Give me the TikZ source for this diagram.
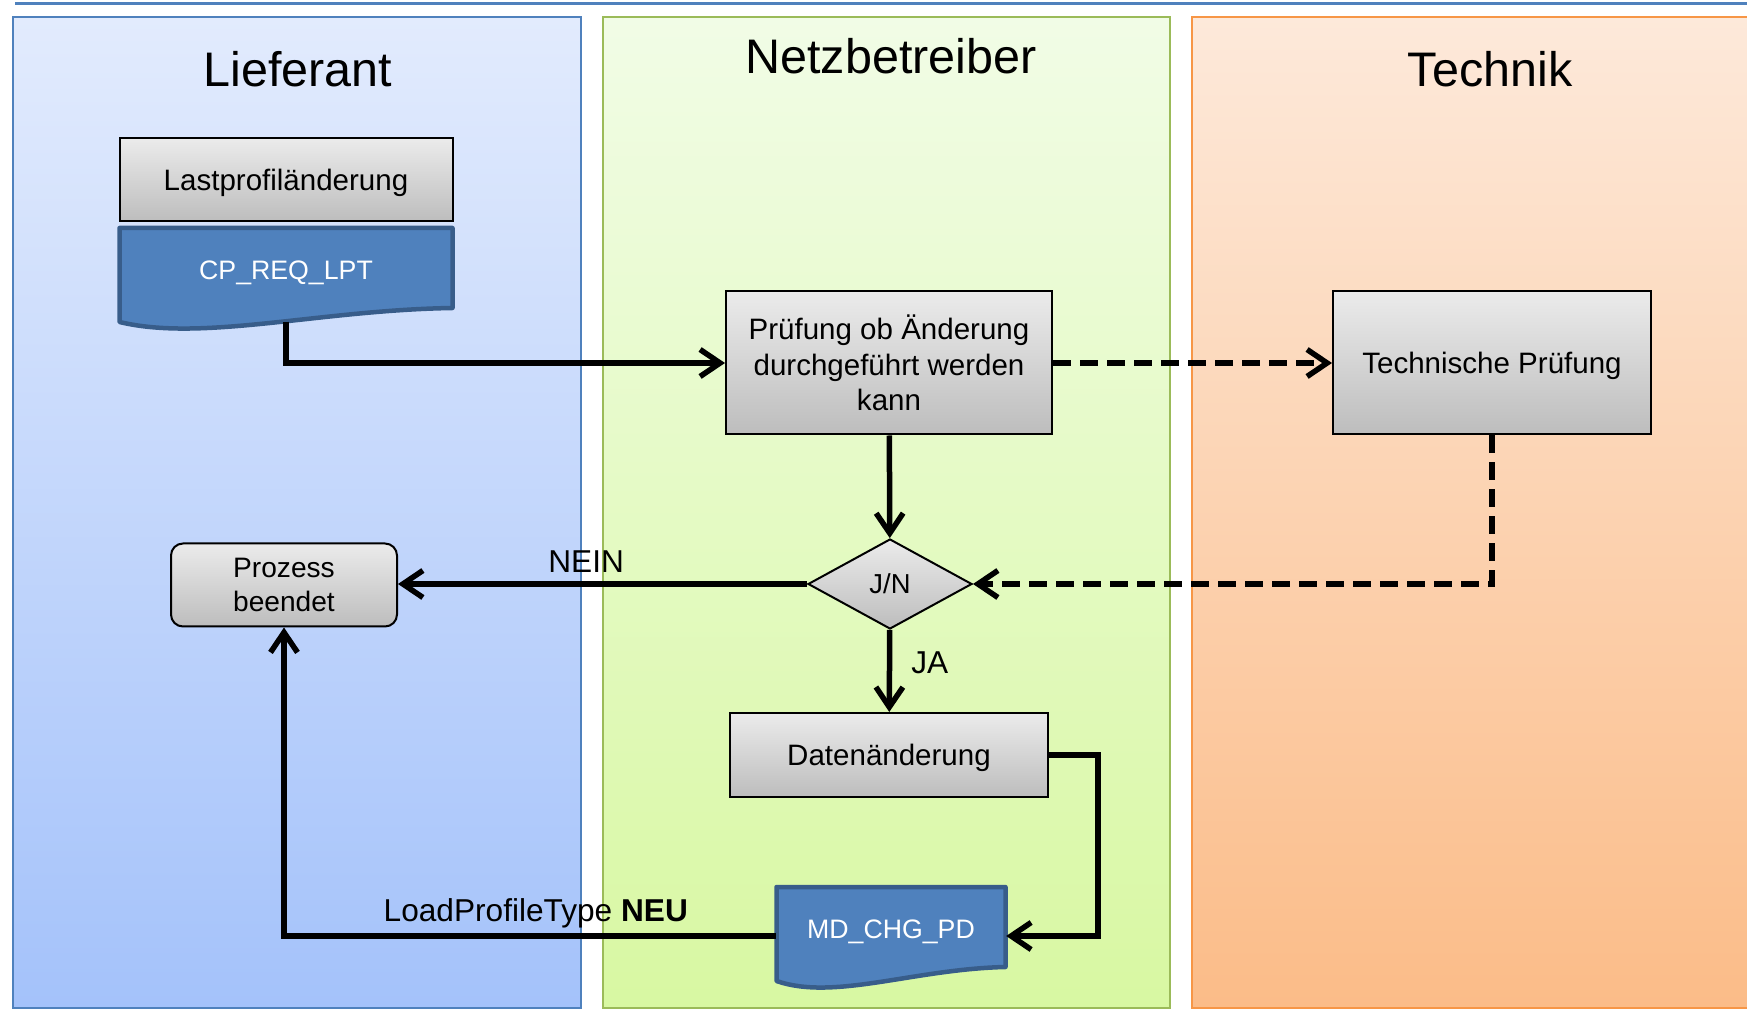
\documentclass[tikz,border=0pt]{standalone}
\usepackage{fontspec}
\setmainfont{Liberation Sans}
\usetikzlibrary{shapes,calc,positioning,arrows.meta}

\definecolor{blueline}{HTML}{4F81BD}
\definecolor{bluetop}{HTML}{E2EBFD}
\definecolor{bluebot}{HTML}{A4C2FA}
\definecolor{greenline}{HTML}{9BBB59}
\definecolor{greentop}{HTML}{F1FCE6}
\definecolor{greenbot}{HTML}{D8F8A2}
\definecolor{orangeline}{HTML}{F79646}
\definecolor{orangetop}{HTML}{FDE9DA}
\definecolor{orangebot}{HTML}{FBBC88}
\definecolor{grautop}{HTML}{EBEBEB}
\definecolor{graubot}{HTML}{BDBDBD}
\definecolor{docblue}{HTML}{4F81BD}
\definecolor{docrand}{HTML}{385D8A}

\tikzset{
  lane/.style={line width=0.15mm},
  titel/.style={font=\fontsize{13.8}{16}\selectfont, anchor=base},
  box/.style={draw, line width=0.2mm, top color=grautop, bottom color=graubot, inner sep=0, text depth=0pt, align=center},
  doc/.style={text=white, font=\fontsize{7.6}{9}\selectfont, inner sep=0, text depth=0pt},
  docform/.style={draw=docrand, fill=docblue, line width=0.45mm, line join=round},
  flow/.style={line width=0.55mm, -{Straight Barb[length=2mm,width=2.7mm]}},
  dflow/.style={flow, dash pattern=on 1.8mm off 0.9mm},
  lbl/.style={font=\fontsize{9}{11}\selectfont, inner sep=0}
}

% #1 center, #2 width, #3 height (in px units of the picture)
\newcommand{\docform}[3]{%
  \draw[docform] ($(#1)+(-#2/2,-#3/2)$) -- ($(#1)+(#2/2,-#3/2)$) -- ($(#1)+(#2/2,#3/2)$)
    .. controls ($(#1)+(0.1*#2,#3/2+2)$) and ($(#1)+(-0.25*#2,#3/2+34)$) .. ($(#1)+(-#2/2,#3/2+14)$) -- cycle;}

\begin{document}
\begin{tikzpicture}[x=0.1mm, y=-0.1mm,
    every node/.append style={font=\fontsize{8.4}{10.1}\selectfont}]
\useasboundingbox (0,0) rectangle (1747,1010);
\begin{scope}
  \clip (0,0) rectangle (1747,1010);
  \draw[lane, draw=blueline, top color=bluetop, bottom color=bluebot] (13,17) rectangle (581,1008);
  \draw[lane, draw=greenline, top color=greentop, bottom color=greenbot] (603,17) rectangle (1170,1008);
  \draw[lane, draw=orangeline, top color=orangetop, bottom color=orangebot] (1192,17) rectangle (1765,1008);
\end{scope}
\draw[blueline, line width=0.3mm] (15,4) -- (1747,4);

\node[titel] (tlief) at (298,87) {Lieferant};
\node[titel] (tnetz) at (891,74) {Netzbetreiber};
\node[titel] (ttech) at (1490,87) {Technik};

\node[box, minimum width=33.3mm, minimum height=8.3mm] (lpa) at (286,180) {Lastprofiländerung};
\coordinate (cpc) at (286,268);
\docform{cpc}{333}{80}
\node[doc, minimum width=33.3mm, minimum height=8mm] (cpreq) at (286,270) {CP\_REQ\_LPT};

\node[box, minimum width=32.6mm, minimum height=14.3mm] (pruef) at (889,363) {Prüfung ob Änderung\\durchgeführt werden\\kann};
\node[box, minimum width=31.8mm, minimum height=14.3mm, right=27.9mm of pruef] (tech) {Technische Prüfung};
\node[box, diamond, minimum width=16.4mm, minimum height=9mm, font=\fontsize{7.8}{9}\selectfont] (jn) at (890,584) {J/N};
\node[box, rounded corners=1.2mm, minimum width=22.6mm, minimum height=8.3mm, font=\fontsize{8}{9.5}\selectfont] (ende) at (284,585) {Prozess\\beendet};
\node[box, minimum width=31.8mm, minimum height=8.4mm] (daten) at (889,755) {Datenänderung};
\coordinate (mdc) at (891,927);
\docform{mdc}{229}{80}
\node[doc, minimum width=22.9mm, minimum height=8mm] (mdchg) at (891,929) {MD\_CHG\_PD};

\draw[flow] ([yshift=-1.1mm]cpreq.south) |- (pruef.west);
\draw[dflow] (pruef) -- (tech);
\draw[flow] (pruef) -- (jn);
\draw[dflow] (tech.south) |- (jn.east);
\draw[flow] (jn.west) -- node[lbl, above=0.9mm, pos=0.54] {NEIN} (jn.west -| ende.east);
\draw[flow] (jn) -- node[lbl, right=1.9mm, pos=0.4] {JA} (daten);
\draw[flow] (daten.east) -- ++(49,0) |- ([yshift=-0.7mm]mdchg.east);
\draw[flow] ([yshift=-0.7mm]mdchg.west) -| node[lbl, above=0.5mm, pos=0.244] {LoadProfileType \textbf{NEU}} (ende.south);
\end{tikzpicture}
\end{document}
